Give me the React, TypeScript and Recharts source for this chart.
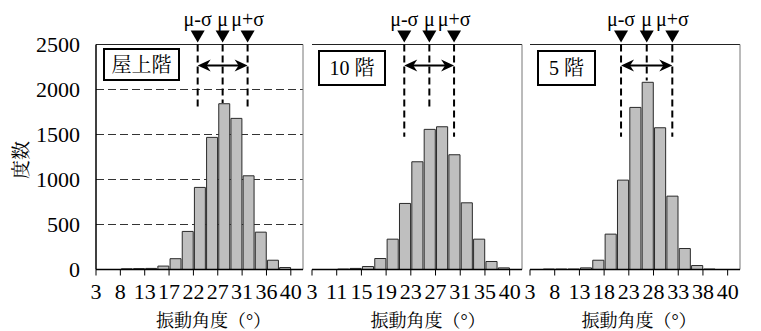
import React from 'react'
import { BarChart, Bar, XAxis, YAxis, CartesianGrid, ReferenceLine, ReferenceDot } from 'recharts'

// bin centres, in bin-edge units (edge 0 = 3°, edge 16 = 40°)
const binCentres = [0.5, 1.5, 2.5, 3.5, 4.5, 5.5, 6.5, 7.5, 8.5, 9.5, 10.5, 11.5, 12.5, 13.5, 14.5, 15.5]

const roofCounts = [0, 0, 8, 10, 12, 38, 120, 423, 912, 1468, 1842, 1679, 1041, 415, 103, 22]
const floor10Counts = [0, 0, 5, 12, 33, 122, 337, 734, 1197, 1557, 1586, 1275, 741, 337, 89, 18]
const floor5Counts = [0, 5, 5, 5, 18, 103, 393, 993, 1801, 2080, 1575, 815, 233, 44, 5, 0]

// tick positions sit on bin edges (every second edge)
const edgeTicks = [0, 2, 4, 6, 8, 10, 12, 14, 16]
const roofTickLabels = ['3', '8', '13', '17', '22', '27', '31', '36', '40']
const floor10TickLabels = ['3', '11', '15', '19', '23', '27', '31', '35', '40']
const floor5TickLabels = ['3', '8', '13', '18', '23', '28', '33', '38', '40']

const yTicks = [0, 500, 1000, 1500, 2000, 2500]

// μ-σ, μ, μ+σ positions (in bin-edge units) and where their guide lines stop
const markerLabels = ['μ-σ', 'μ', 'μ+σ']
const roofMarkers = [8.35, 10.4, 12.45]
const floor10Markers = [7.47, 9.5, 11.5]
const floor5Markers = [7.37, 9.45, 11.52]
const roofGuideEnd = [1790, 1850, 1790]
const floor10GuideEnd = [1475, 1770, 1475]
const floor5GuideEnd = [1475, 2100, 1475]
const arrowLevel = 2268

const SERIF = '"Liberation Serif", "Noto Serif CJK JP", serif'

type Panel = {
  name: string
  counts: number[]
  tickLabels: string[]
  markers: number[]
  guideEnd: number[]
  left: number
  width: number
  ml: number
  mr: number
  yWidth: number
  showY: boolean
  titleDx: number
  barSize: number
  box: { left: number; top: number; width: number; height: number }
}

const panels: Panel[] = [
  {
    name: '屋上階', counts: roofCounts, tickLabels: roofTickLabels, markers: roofMarkers, guideEnd: roofGuideEnd,
    left: 0, width: 310, ml: 0, mr: 7, yWidth: 96, showY: true, titleDx: 14, barSize: 207 / 17,
    box: { left: 103, top: 48, width: 77, height: 33 },
  },
  {
    name: '10 階', counts: floor10Counts, tickLabels: floor10TickLabels, markers: floor10Markers, guideEnd: floor10GuideEnd,
    left: 304, width: 226, ml: 8, mr: 8, yWidth: 0, showY: false, titleDx: 11, barSize: 210 / 17,
    box: { left: 318, top: 50, width: 68, height: 36 },
  },
  {
    name: '5 階', counts: floor5Counts, tickLabels: floor5TickLabels, markers: floor5Markers, guideEnd: floor5GuideEnd,
    left: 522, width: 226, ml: 8, mr: 8, yWidth: 0, showY: false, titleDx: 4, barSize: 210 / 17,
    box: { left: 537, top: 50, width: 59, height: 36 },
  },
]

const markerShape = (label: string) => (props: any) => {
  const { cx, cy } = props
  return (
    <g>
      <polygon points={`${cx - 7},${cy - 14} ${cx + 7},${cy - 14} ${cx},${cy - 2}`} fill="#000" />
      <text x={cx} y={cy - 19} textAnchor="middle" fontSize={20} fontFamily={SERIF} fill="#000">
        {label}
      </text>
    </g>
  )
}

const arrowShape = (props: any) => {
  const { x1, y1, x2, y2 } = props
  return (
    <g>
      <line x1={x1 + 4} y1={y1} x2={x2 - 4} y2={y2} stroke="#000" strokeWidth={2} />
      <polygon points={`${x1},${y1} ${x1 + 13},${y1 - 6} ${x1 + 9},${y1} ${x1 + 13},${y1 + 6}`} fill="#000" />
      <polygon points={`${x2},${y2} ${x2 - 13},${y2 - 6} ${x2 - 9},${y2} ${x2 - 13},${y2 + 6}`} fill="#000" />
    </g>
  )
}

function Histogram({ p }: { p: Panel }) {
  const data = binCentres.map((c, i) => ({ centre: c, count: p.counts[i] }))
  return (
    <div style={{ position: 'absolute', left: p.left, top: 0 }}>
      <BarChart
        width={p.width}
        height={331}
        data={data}
        margin={{ top: 44.5, right: p.mr, bottom: 1.5, left: p.ml }}
        barCategoryGap={0}
        barGap={0}
      >
        <CartesianGrid vertical={false} stroke="#333" strokeDasharray="8 4" />
        <XAxis
          dataKey="centre"
          type="number"
          domain={[0, 17]}
          allowDataOverflow
          ticks={edgeTicks}
          interval={0}
          height={60}
          tickSize={6}
          tickMargin={8}
          axisLine={{ stroke: '#000', strokeWidth: 1.5 }}
          tickLine={{ stroke: '#000' }}
          tick={{ fontSize: 22, fill: '#000', fontFamily: SERIF }}
          tickFormatter={(v: number) => p.tickLabels[edgeTicks.indexOf(v)] ?? ''}
          label={{
            value: '振動角度（°）',
            position: 'insideBottom',
            offset: 3,
            dx: p.titleDx,
            fontSize: 18,
            fill: '#000',
            fontFamily: SERIF,
          }}
        />
        <YAxis
          domain={[0, 2500]}
          ticks={yTicks}
          interval={0}
          width={p.yWidth}
          axisLine={{ stroke: '#000', strokeWidth: 1.5 }}
          tickLine={false}
          tickSize={8}
          tickMargin={8}
          tick={p.showY ? { fontSize: 22, fill: '#000', fontFamily: SERIF } : false}
          label={
            p.showY
              ? { value: '度数', angle: -90, position: 'center', dx: -27, dy: 3, fontSize: 19, fill: '#000', fontFamily: SERIF }
              : undefined
          }
        />
        <Bar dataKey="count" barSize={p.barSize} fill="#bfbfbf" stroke="#2a2a2a" strokeWidth={1} isAnimationActive={false} />
        <ReferenceLine y={2500} stroke="#222" strokeWidth={1} />
        <ReferenceLine x={17} stroke="#777" strokeWidth={1} />
        {p.markers.map((m, i) => (
          <ReferenceLine
            key={`g${i}`}
            segment={[{ x: m, y: 2500 }, { x: m, y: p.guideEnd[i] }]}
            stroke="#000"
            strokeWidth={2}
            strokeDasharray="7 4"
          />
        ))}
        <ReferenceLine
          segment={[{ x: p.markers[0], y: arrowLevel }, { x: p.markers[2], y: arrowLevel }]}
          shape={arrowShape}
        />
        {p.markers.map((m, i) => (
          <ReferenceDot key={`m${i}`} x={m} y={2500} shape={markerShape(markerLabels[i])} />
        ))}
      </BarChart>
    </div>
  )
}

export default function App() {
  return (
    <div style={{ position: 'absolute', left: 0, top: 0, width: 761, height: 331, background: '#fff', overflow: 'hidden' }}>
      {panels.map((p) => (
        <Histogram key={p.name} p={p} />
      ))}
      {panels.map((p) => (
        <div
          key={`box-${p.name}`}
          style={{
            position: 'absolute',
            left: p.box.left,
            top: p.box.top,
            width: p.box.width,
            height: p.box.height,
            border: '2px solid #000',
            boxSizing: 'border-box',
            background: '#fff',
            display: 'flex',
            alignItems: 'center',
            justifyContent: 'center',
            fontFamily: SERIF,
            fontSize: 20,
            lineHeight: 1,
            color: '#000',
          }}
        >
          {p.name}
        </div>
      ))}
    </div>
  )
}
